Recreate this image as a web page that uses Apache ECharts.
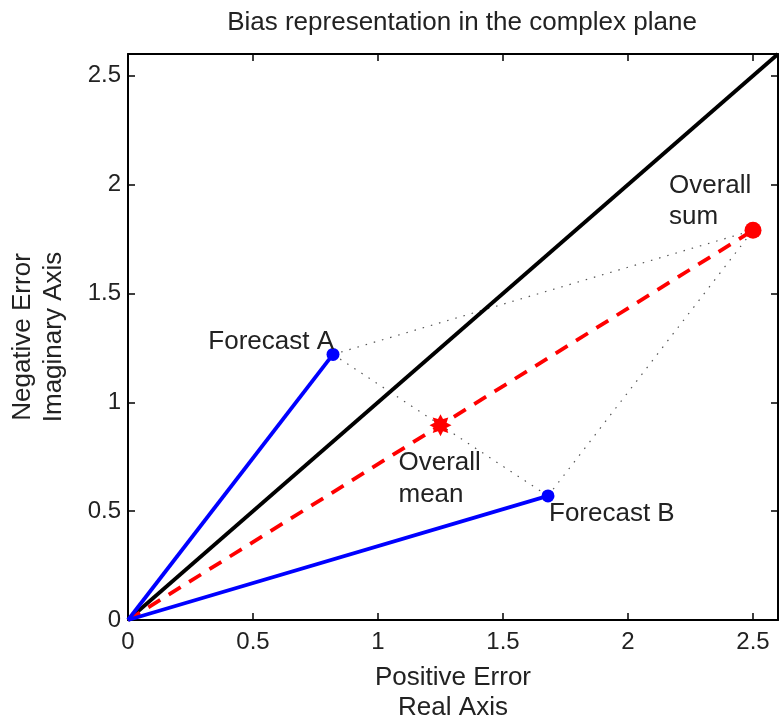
<!DOCTYPE html>
<html><head><meta charset="utf-8">
<script src="https://cdn.jsdelivr.net/npm/echarts@6/dist/echarts.min.js"></script>
<style>html,body{margin:0;padding:0;background:#fff}#c{width:779px;height:721px}</style>
</head><body><div id="c"></div>
<script>
const titleText = 'Bias representation in the complex plane';
const xName = 'Positive Error\nReal Axis';
const yName = 'Negative Error\nImaginary Axis';
const axisMin = 0, axisMax = 2.6, axisStep = 0.5;
const origin = [0, 0];
const forecastA = [0.82, 1.22];
const forecastB = [1.68, 0.57];
const overallSum = [2.5, 1.79];
const overallMean = [1.25, 0.895];
const diagonal = [[0, 0], [2.6, 2.6]];

function starPath(n) {
  let d = '';
  for (let i = 0; i < 2 * n; i++) {
    const r = i % 2 === 0 ? 10 : 6;
    const a = Math.PI * i / n - Math.PI / 2;
    d += (i === 0 ? 'M' : 'L') + (10 + r * Math.cos(a)).toFixed(2) + ' ' + (10 + r * Math.sin(a)).toFixed(2);
  }
  return 'path://' + d + 'Z';
}

const font = '"Liberation Sans", Arial, sans-serif';
const txt = { color: '#222', fontFamily: font, fontSize: 26 };
const nameTxt = { color: '#222', fontFamily: font, fontSize: 26 };
const tickTxt = { color: '#222', fontFamily: font, fontSize: 24 };
const dotted = { color: '#555', width: 1.2, type: [1.5, 7] };
const fmt = v => (Math.abs(v - Math.round(v)) < 1e-9 ? String(Math.round(v)) : String(v));
const lbl = (o) => Object.assign({ show: true, position: 'inside', verticalAlign: 'middle', opacity: 1 }, txt, o);

const chart = echarts.init(document.getElementById('c'), null, { renderer: 'canvas' });
chart.setOption({
  animation: false,
  backgroundColor: '#fff',
  title: { text: titleText, left: 457, top: 5, textAlign: 'center',
    textStyle: { fontFamily: font, fontWeight: 'normal', fontSize: 26, color: '#222' } },
  grid: { left: 128, right: 1, top: 54, bottom: 101, containLabel: false, outerBoundsMode: 'none' },
  xAxis: [
    { type: 'value', min: axisMin, max: axisMax, interval: axisStep, position: 'bottom',
      name: xName, nameLocation: 'middle', nameGap: 43, nameTextStyle: Object.assign({ lineHeight: 30 }, nameTxt),
      axisLine: { onZero: false, lineStyle: { color: '#000', width: 2 } },
      axisTick: { inside: true, length: 7, lineStyle: { color: '#000', width: 1.5 } },
      axisLabel: Object.assign({ margin: 10, formatter: fmt, showMaxLabel: false }, tickTxt),
      splitLine: { show: false } },
    { type: 'value', min: axisMin, max: axisMax, interval: axisStep, position: 'top',
      axisLine: { onZero: false, lineStyle: { color: '#000', width: 2 } },
      axisTick: { inside: true, length: 7, lineStyle: { color: '#000', width: 1.5 } },
      axisLabel: { show: false }, splitLine: { show: false } }
  ],
  yAxis: [
    { type: 'value', min: axisMin, max: axisMax, interval: axisStep, position: 'left',
      name: yName, nameLocation: 'middle', nameGap: 59, nameRotate: 90,
      nameTextStyle: Object.assign({ lineHeight: 31 }, nameTxt),
      axisLine: { onZero: false, lineStyle: { color: '#000', width: 2 } },
      axisTick: { inside: true, length: 7, lineStyle: { color: '#000', width: 1.5 } },
      axisLabel: Object.assign({ margin: 7, formatter: fmt, showMaxLabel: false }, tickTxt),
      splitLine: { show: false } },
    { type: 'value', min: axisMin, max: axisMax, interval: axisStep, position: 'right',
      axisLine: { onZero: false, lineStyle: { color: '#000', width: 2 } },
      axisTick: { inside: true, length: 7, lineStyle: { color: '#000', width: 1.5 } },
      axisLabel: { show: false }, splitLine: { show: false } }
  ],
  series: [
    { type: 'line', data: diagonal, symbol: 'none', lineStyle: { color: '#000', width: 3.8 }, z: 3 },
    { type: 'line', data: [forecastA, overallSum], symbol: 'none', lineStyle: dotted, z: 2 },
    { type: 'line', data: [forecastA, forecastB], symbol: 'none', lineStyle: dotted, z: 2 },
    { type: 'line', data: [forecastB, overallSum], symbol: 'none', lineStyle: dotted, z: 2 },
    { type: 'line', data: [origin, overallSum], symbol: 'none',
      lineStyle: { color: '#ff0000', width: 3.8, type: [14, 10] }, z: 4 },
    { type: 'line', data: [origin, forecastA], symbol: 'none', lineStyle: { color: '#0000ff', width: 3.8 }, z: 5 },
    { type: 'line', data: [origin, forecastB], symbol: 'none', lineStyle: { color: '#0000ff', width: 3.8 }, z: 5 },
    { type: 'scatter', z: 6, symbol: 'circle', symbolSize: 13, itemStyle: { color: '#0000ff', opacity: 1 },
      data: [
        { value: forecastA, label: lbl({ formatter: 'Forecast A', align: 'right', offset: [1, -13] }) },
        { value: forecastB, label: lbl({ formatter: 'Forecast B', align: 'left', offset: [1, 18] }) }
      ] },
    { type: 'scatter', z: 6, symbol: 'circle', symbolSize: 17, itemStyle: { color: '#ff0000', opacity: 1 },
      data: [
        { value: overallSum, label: lbl({ formatter: 'Overall\nsum', align: 'left', lineHeight: 31, offset: [-84, -29] }) }
      ] },
    { type: 'scatter', z: 6, symbol: starPath(8), symbolSize: 22, itemStyle: { color: '#ff0000', opacity: 1 },
      data: [
        { value: overallMean, label: lbl({ formatter: 'Overall\nmean', align: 'left', lineHeight: 32, offset: [-42, 54] }) }
      ] }
  ]
});
</script></body></html>
